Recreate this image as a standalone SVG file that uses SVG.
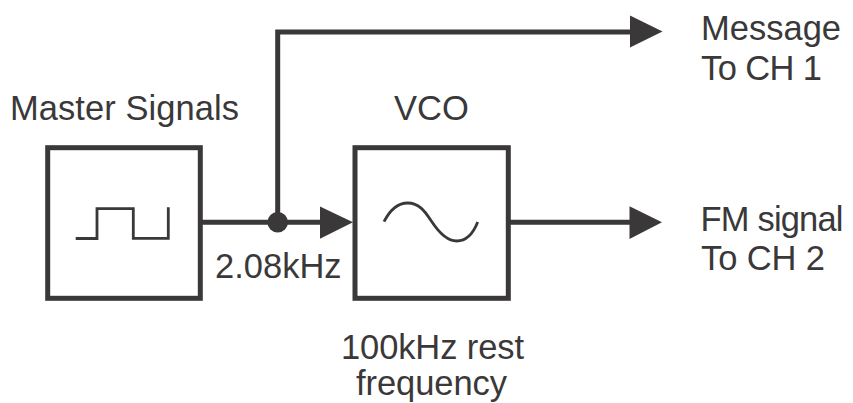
<svg xmlns="http://www.w3.org/2000/svg" width="853" height="403" viewBox="0 0 853 403">
<style>
text{font-family:"Liberation Sans",Arial,sans-serif;font-size:34.500px;fill:#3a3839}
.l{fill:none;stroke:#3a3839;stroke-width:5}
.t{fill:none;stroke:#3a3839;stroke-width:2.800}
.h{fill:#3a3839;stroke:none}
</style>
<rect width="853" height="403" fill="#fff"/>
<g id="connectors">
<path class="l" d="M200 222.300H322M277.700 222.300V32H632M508 222.300H632"/>
<polygon class="h" points="320,206.500 353,222.300 320,238.700"/>
<polygon class="h" points="630,15.500 662.500,31.500 630,47.500"/>
<polygon class="h" points="629.500,206.300 662,222.300 629.500,239"/>
<circle class="h" cx="277.700" cy="222.300" r="10.300"/>
</g>
<g id="master"><rect class="l" x="47.700" y="147.700" width="152.600" height="150.600"/>
<path class="t" d="M75.700 238.500H97V208.700H133.300V238.300H168.300V207.300"/>
<text x="10" y="119.500" textLength="229">Master Signals</text></g>
<g id="vco"><rect class="l" x="355" y="147.700" width="153.300" height="150.600"/>
<path class="t" d="M384 221.700C391 208 399 203 407.700 203C421 203 427 215 432 222C438 231 446 241 456.700 241C466 241 473 234 477.700 222"/>
<text x="394" y="119.500">VCO</text></g>
<g id="labels">
<text x="701" y="40" textLength="140">Message</text><text x="701" y="79.500" textLength="121">To CH 1</text>
<text x="700.500" y="231" textLength="143">FM signal</text><text x="701" y="270" textLength="124">To CH 2</text>
<text x="215" y="278">2.08kHz</text>
<text x="341" y="359" textLength="183">100kHz rest</text><text x="356" y="395" textLength="151">frequency</text>
</g>
</svg>
